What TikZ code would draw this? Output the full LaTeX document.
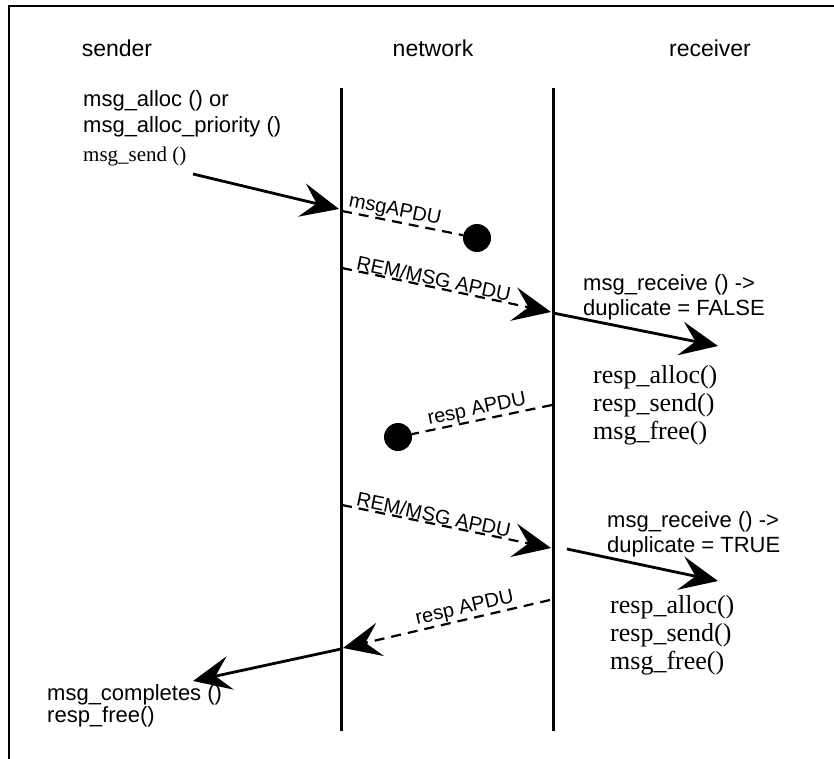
\documentclass[tikz,border=0pt]{standalone}
\usepackage{fontspec}
\setmainfont{Liberation Sans}
\newfontfamily\tms{Liberation Serif}
\usetikzlibrary{arrows.meta}
\begin{document}
\begin{tikzpicture}[x=1pt,y=-1pt,
  head/.style={font=\fontsize{23}{27}\selectfont, inner sep=0pt, anchor=base},
  lbl/.style={font=\fontsize{22}{26}\selectfont, inner sep=0pt, anchor=base west},
  tlbl/.style={font=\tms\fontsize{21}{25}\selectfont, inner sep=0pt, anchor=base west},
  tbig/.style={font=\tms\fontsize{26}{28}\selectfont, inner sep=0pt, anchor=base west},
  dlbl/.style={font=\fontsize{20}{24}\selectfont, sloped, above, inner sep=0.5pt},
  bigtip/.tip={Stealth[length=38pt,width=34pt,inset=15pt]},
  life/.style={line width=3pt},
  msg/.style={line width=2.8pt, -bigtip},
  dmsg/.style={line width=2.2pt, dash pattern=on 10pt off 7pt},
  dmsgA/.style={dmsg, -bigtip},
  lost/.style={circle, fill=black, inner sep=0pt, minimum size=28pt}
]
\useasboundingbox (0,0) rectangle (834,759);
\draw[line width=2.2pt] (834,6) -- (9,6) -- (9,759);

% headers
\node[head] (hs) at (117,57) {sender};
\node[head] (hn) at (433,57) {network};
\node[head] (hr) at (710,57) {receiver};

% lifelines
\coordinate (nt) at (341,88);
\coordinate (nb) at (341,731);
\coordinate (rt) at (553,88);
\coordinate (rb) at (553,731);
\draw[life] (nt) -- (nb);
\draw[life] (rt) -- (rb);

% sender texts
\node[lbl] (sa1) at (83,107) {msg\_alloc () or};
\node[lbl] (sa2) at (83,133) {msg\_alloc\_priority ()};
\node[tlbl] (ss) at (83,162) {msg\_send ()};

% arrow 1
\coordinate (a1s) at (193,174);
\coordinate (a1e) at (339,209);
\draw[msg] (a1s) -- (a1e);

% lost msgAPDU
\coordinate (m1s) at (342,211);
\node[lost] (d1) at (477,238) {};
\draw[dmsg] (m1s) -- (d1) node[dlbl, pos=0.42] {msgAPDU};

% REM/MSG APDU 1
\coordinate (r1s) at (342,268);
\coordinate (r1e) at (551,312);
\draw[dmsgA] (r1s) -- (r1e) node[dlbl, pos=0.43] {REM/MSG APDU};

% receive 1
\coordinate (v1s) at (553,313);
\coordinate (v1e) at (718,346);
\draw[msg] (v1s) -- (v1e);
\node[lbl] (rc1a) at (583,290) {msg\_receive () ->};
\node[lbl] (rc1b) at (583,315) {duplicate = FALSE};
\node[tbig] (ra1) at (593,383) {resp\_alloc()};
\node[tbig] (rs1) at (593,411) {resp\_send()};
\node[tbig] (rf1) at (593,439) {msg\_free()};

% lost resp APDU
\coordinate (p1s) at (552,405);
\node[lost] (d2) at (398,437) {};
\draw[dmsg] (p1s) -- (d2) node[dlbl, pos=0.52] {resp APDU};

% REM/MSG APDU 2
\coordinate (r2s) at (342,505);
\coordinate (r2e) at (551,548);
\draw[dmsgA] (r2s) -- (r2e) node[dlbl, pos=0.43] {REM/MSG APDU};

% receive 2
\coordinate (v2s) at (567,549);
\coordinate (v2e) at (718,581);
\draw[msg] (v2s) -- (v2e);
\node[lbl] (rc2a) at (607,527) {msg\_receive () ->};
\node[lbl] (rc2b) at (607,552) {duplicate = TRUE};
\node[tbig] (ra2) at (610,613) {resp\_alloc()};
\node[tbig] (rs2) at (610,641) {resp\_send()};
\node[tbig] (rf2) at (610,669) {msg\_free()};

% resp APDU 2
\coordinate (p2s) at (550,600);
\coordinate (p2e) at (343,648);
\draw[dmsgA] (p2s) -- (p2e) node[dlbl, pos=0.4] {resp APDU};

% completes
\coordinate (c1s) at (341,649);
\coordinate (c1e) at (193,681);
\draw[msg] (c1s) -- (c1e);
\node[lbl] (mc) at (47,700) {msg\_completes ()};
\node[lbl] (rf) at (47,722) {resp\_free()};
\end{tikzpicture}
\end{document}
